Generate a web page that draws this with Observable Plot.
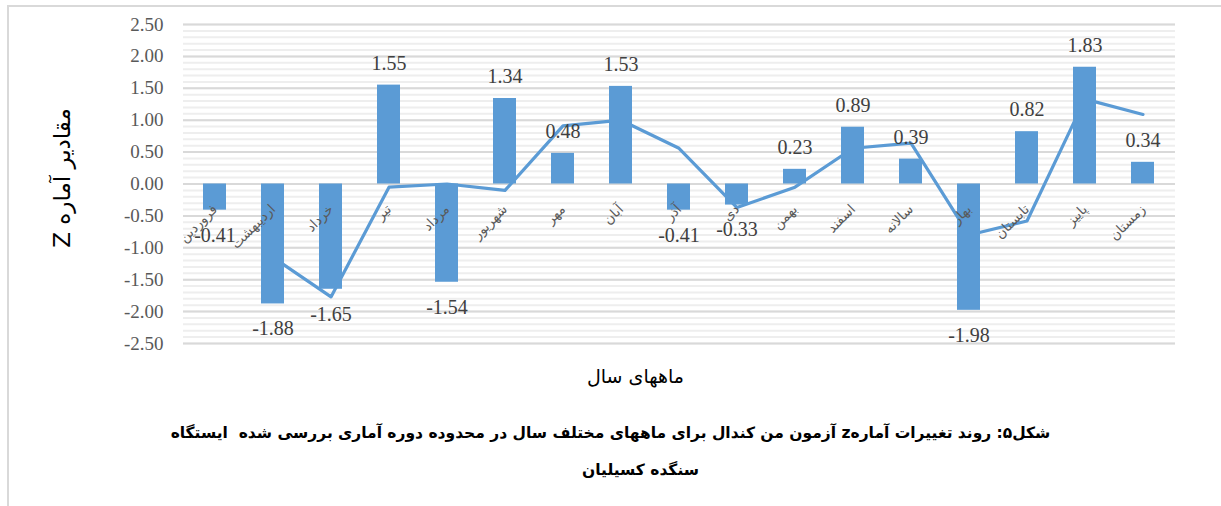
<!DOCTYPE html>
<html>
<head>
<meta charset="utf-8">
<script src="https://cdn.jsdelivr.net/npm/d3@7"></script>
<script src="https://cdn.jsdelivr.net/npm/@observablehq/plot@0.6"></script>
<style>
  html, body { margin: 0; padding: 0; background: #fff; overflow: hidden; width: 1221px; height: 506px; }
  #frame { position: absolute; left: 7px; top: 5px; width: 1300px; height: 600px; border: 2px solid #d9d9d9; box-sizing: border-box; pointer-events: none; }
  #chart { position: absolute; left: 0; top: 0; }
</style>
</head>
<body>
<div id="frame"></div>
<div id="chart"></div>
<script>
const categories = ["فروردین","اردیبهشت","خرداد","تیر","مرداد","شهریور","مهر","آبان","آذر","دی","بهمن","اسفند","سالانه","بهار","تابستان","پاییز","زمستان"];
const zValues = [-0.41,-1.88,-1.65,1.55,-1.54,1.34,0.48,1.53,-0.41,-0.33,0.23,0.89,0.39,-1.98,0.82,1.83,0.34];
const trendCategories = ["اردیبهشت","خرداد","تیر","مرداد","شهریور","مهر","آبان","آذر","دی","بهمن","اسفند","سالانه","بهار","تابستان","پاییز","زمستان"];
const trendValues = [-1.15,-1.77,-0.05,0.00,-0.10,0.91,1.00,0.56,-0.37,-0.05,0.56,0.64,-0.80,-0.58,1.33,1.09];
const yTicks = [-2.5,-2.0,-1.5,-1.0,-0.5,0,0.5,1.0,1.5,2.0,2.5];
const yTitle = "مقادیر آماره Z";
const xTitle = "ماههای سال";
const captionLines = ["شکل۵: روند تغییرات آمارهz آزمون من کندال برای ماههای مختلف سال در محدوده دوره آماری بررسی شده  ایستگاه", "سنگده کسیلیان"];

const rtl = s => "\u202B" + s + "\u202C";
const bars = categories.map((c, i) => ({cat: c, v: zValues[i]}));
const trend = trendCategories.map((c, i) => ({cat: c, v: trendValues[i]}));
const minorTicks = d3.range(-25, 26).map(k => k / 10);

const blue = "#5b9bd5";
const serif = "'Liberation Serif', 'Times New Roman', 'DejaVu Serif', serif";
const persian = "'DejaVu Sans', sans-serif";

const chart = Plot.plot({
  width: 1221,
  height: 506,
  marginTop: 24,
  marginBottom: 163,
  marginLeft: 183,
  marginRight: 46,
  style: {background: "transparent", overflow: "visible"},
  x: {domain: categories, paddingInner: 0.6, paddingOuter: 0.3, axis: null},
  y: {domain: [-2.5, 2.5], axis: null},
  marks: [
    Plot.ruleY(minorTicks, {stroke: "#eeeeee", strokeWidth: 2}),
    Plot.ruleY(yTicks, {stroke: "#d9d9d9", strokeWidth: 2}),
    Plot.axisY({ticks: yTicks, tickFormat: d => d.toFixed(2), tickSize: 0, tickPadding: 20, fontSize: 19, fontFamily: serif, fill: "#595959", label: null}),
    Plot.line(trend, {x: "cat", y: "v", stroke: blue, strokeWidth: 3.2}),
    Plot.barY(bars, {x: "cat", y: "v", fill: blue}),
    Plot.text(categories, {x: d => d, y: () => 0, rotate: -45, textAnchor: "end", dx: 0, dy: 23, fontSize: 13.5, fontFamily: persian, fill: "#595959"}),
    Plot.text(bars.filter(d => d.v >= 0), {x: "cat", y: "v", text: d => d.v.toFixed(2), dy: -22, fontSize: 20, fontFamily: serif, fill: "#404040"}),
    Plot.text(bars.filter(d => d.v < 0), {x: "cat", y: "v", text: d => d.v.toFixed(2), dy: 25, fontSize: 20, fontFamily: serif, fill: "#404040"}),
    Plot.text([yTitle], {frameAnchor: "left", textAnchor: "middle", text: d => rtl(d), rotate: -90, dx: -121, dy: -6, fontSize: 23, fontFamily: persian, fill: "#000"}),
    Plot.text([xTitle], {frameAnchor: "bottom", textAnchor: "middle", text: d => rtl(d), dx: -44, dy: 39, fontSize: 19, fontFamily: persian, fill: "#000"}),
    Plot.text([captionLines[0]], {frameAnchor: "bottom", textAnchor: "middle", text: d => rtl(d), dx: -69, dy: 94, fontSize: 15.5, fontWeight: "bold", fontFamily: persian, fill: "#000"}),
    Plot.text([captionLines[1]], {frameAnchor: "bottom", textAnchor: "middle", text: d => rtl(d), dx: -39, dy: 131, fontSize: 15.5, fontWeight: "bold", fontFamily: persian, fill: "#000"})
  ]
});
document.getElementById("chart").appendChild(chart);
</script>
</body>
</html>
